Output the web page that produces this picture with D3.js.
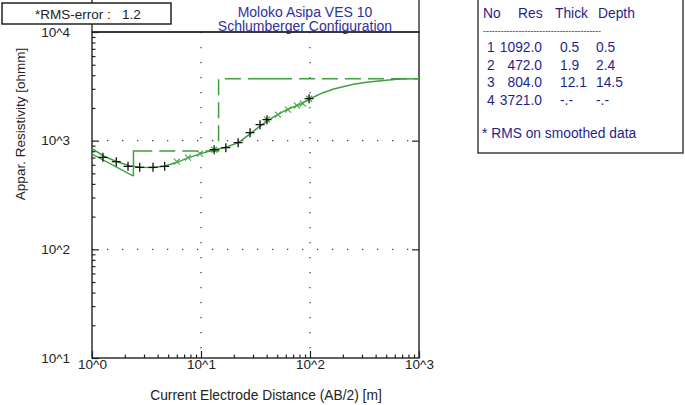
<!DOCTYPE html>
<html>
<head>
<meta charset="utf-8">
<script src="https://cdn.jsdelivr.net/npm/d3@7"></script>
<style>
  body { margin: 0; background: #fff; }
  svg { display: block; font-family: "Liberation Sans", Arial, sans-serif; }
</style>
</head>
<body>
<div id="chart"></div>
<script>
// sounding data
const fieldAB = [1.26, 1.67, 2.14, 2.74, 3.63, 4.64, 13.2, 16.9, 21.9, 28.2, 34.8, 40.3, 98];
const fieldRho = [702, 641, 580, 568, 568, 580, 826, 862, 959, 1185, 1403, 1560, 2433];
const smoothAB = [6.0, 7.6, 9.8, 13.2, 40.3, 50.9, 62.8, 76, 86, 98];
const smoothRho = [641, 698, 759, 826, 1560, 1734, 1928, 2099, 2190, 2433];
// calculated curve for the model
const curveAB = [1, 1.3, 1.7, 2.2, 2.8, 3.6, 4.6, 6, 7.6, 10, 13, 17, 22, 28, 36, 46, 60, 80, 100, 130, 165, 250, 330, 500, 670, 1000];
const curveRho = [845, 715, 640, 588, 568, 566, 582, 632, 695, 760, 822, 870, 960, 1150, 1400, 1650, 1910, 2150, 2430, 2750, 2990, 3300, 3440, 3600, 3690, 3720];
// layer model
const layerNo = [1, 2, 3, 4];
const layerRes = [1092.0, 472.0, 804.0, 3721.0];
const layerThick = [0.5, 1.9, 12.1, null];
const layerDepth = [0.5, 2.4, 14.5, null];
const xTickLabels = ["10^0", "10^1", "10^2", "10^3"];
const yTickLabels = ["10^1", "10^2", "10^3", "10^4"];
const titleLines = ["Moloko Asipa VES 10", "Schlumberger Configuration"];
const rmsError = 1.2;

const width = 685, height = 405;
const m = { left: 92, right: 419, top: 32, bottom: 358 };

const svg = d3.select("#chart").append("svg")
  .attr("width", width).attr("height", height);

const x = d3.scaleLog().domain([1, 1000]).range([m.left, m.right]);
const y = d3.scaleLog().domain([10, 10000]).range([m.bottom, m.top]);

const xMajor = [1, 10, 100, 1000];
const yMajor = [10, 100, 1000, 10000];
const minorOf = (dec) => d3.merge(dec.slice(0, -1).map(d => d3.range(2, 10).map(k => k * d)));

// title box
svg.append("rect")
  .attr("x", m.left).attr("y", -2).attr("width", m.right - m.left).attr("height", m.top + 2)
  .attr("fill", "#fff").attr("stroke", "#222").attr("stroke-width", 1.3);
svg.selectAll(".title").data(titleLines).enter().append("text")
  .attr("x", 305).attr("y", (d, i) => 16.5 + i * 14.5)
  .attr("text-anchor", "middle")
  .attr("fill", "#30309a").style("font-size", "14px")
  .text(d => d);

// grid
const grid = svg.append("g").attr("stroke", "#444").attr("stroke-width", 1.3)
  .attr("stroke-dasharray", "1.3,13.7");
grid.selectAll(".gx").data([10, 100]).enter().append("line")
  .attr("x1", d => x(d)).attr("x2", d => x(d)).attr("y1", m.top).attr("y2", m.bottom);
grid.selectAll(".gy").data([100, 1000]).enter().append("line")
  .attr("y1", d => y(d)).attr("y2", d => y(d)).attr("x1", m.left).attr("x2", m.right);

// axes
const xAxisMinor = d3.axisBottom(x).tickValues(minorOf(xMajor)).tickSize(-3.5).tickSizeOuter(0).tickFormat("");
const xAxisMajor = d3.axisBottom(x).tickValues(xMajor).tickSize(-7).tickSizeOuter(0).tickPadding(1)
  .tickFormat((d, i) => xTickLabels[i]);
const yAxisMinor = d3.axisLeft(y).tickValues(minorOf(yMajor)).tickSize(-3.5).tickSizeOuter(0).tickFormat("");
const yAxisMajor = d3.axisLeft(y).tickValues(yMajor).tickSize(-7).tickSizeOuter(0).tickPadding(22)
  .tickFormat((d, i) => yTickLabels[i]);
const yAxisRight = d3.axisRight(y).tickValues([100, 1000]).tickSize(-7).tickSizeOuter(0).tickFormat("");

const styleAxis = (g) => {
  g.select(".domain").remove();
  g.selectAll("line").attr("stroke", "#222").attr("stroke-width", 1.2);
  g.selectAll("text").attr("fill", "#222").style("font-size", "13.5px")
    .style("font-family", "'Liberation Sans', Arial, sans-serif");
};
svg.append("g").attr("transform", `translate(0,${m.bottom})`).call(xAxisMinor).call(styleAxis);
svg.append("g").attr("transform", `translate(0,${m.bottom})`).call(xAxisMajor).call(styleAxis);
svg.append("g").attr("transform", `translate(${m.left},0)`).call(yAxisMinor).call(styleAxis);
svg.append("g").attr("transform", `translate(${m.left},0)`).call(yAxisMajor).call(styleAxis);
svg.append("g").attr("transform", `translate(${m.right},0)`).call(yAxisRight).call(styleAxis);

// plot frame
svg.append("rect")
  .attr("x", m.left).attr("y", m.top).attr("width", m.right - m.left).attr("height", m.bottom - m.top)
  .attr("fill", "none").attr("stroke", "#222").attr("stroke-width", 1.4);

svg.append("text")
  .attr("x", 266).attr("y", 400).attr("text-anchor", "middle")
  .attr("fill", "#222").style("font-size", "13.8px")
  .text("Current Electrode Distance (AB/2) [m]");
svg.append("text")
  .attr("transform", "translate(25,124) rotate(-90)")
  .attr("text-anchor", "middle")
  .attr("fill", "#222").style("font-size", "13.5px")
  .text("Appar. Resistivity [ohmm]");

// curves
svg.append("clipPath").attr("id", "plotclip").append("rect")
  .attr("x", m.left).attr("y", m.top).attr("width", m.right - m.left).attr("height", m.bottom - m.top);
const plot = svg.append("g").attr("clip-path", "url(#plotclip)");

const line = d3.line().x(d => x(d[0])).y(d => y(d[1]));

// model: transition from the top layer, then the steps (dashed)
const modelTop = [[layerDepth[0], layerRes[0]], [layerDepth[1], layerRes[1]]];
const modelPts = [[layerDepth[1], layerRes[1]],
  [layerDepth[1], layerRes[2]], [layerDepth[2], layerRes[2]],
  [layerDepth[2], layerRes[3]], [1000, layerRes[3]]];
plot.append("path").attr("d", line(modelTop))
  .attr("fill", "none").attr("stroke", "#3f9f3f").attr("stroke-width", 1.3);
plot.append("path").attr("d", line(modelPts))
  .attr("fill", "none").attr("stroke", "#3f9f3f").attr("stroke-width", 1.5)
  .attr("stroke-dasharray", "44,7,16,7,16,7,16,7,16,7,16,7,16,7,16,7");

plot.append("path").attr("d", line(curveAB.map((d, i) => [d, curveRho[i]])))
  .attr("fill", "none").attr("stroke", "#3f9f3f").attr("stroke-width", 1.5);

// markers
plot.selectAll(".sm").data(smoothAB.map((d, i) => [d, smoothRho[i]])).enter().append("path")
  .attr("d", d => {
    const cx = x(d[0]), cy = y(d[1]), r = 3;
    return `M${cx - r},${cy - r}L${cx + r},${cy + r}M${cx - r},${cy + r}L${cx + r},${cy - r}`;
  })
  .attr("stroke", "#4aa84a").attr("stroke-width", 1.2);
plot.selectAll(".fd").data(fieldAB.map((d, i) => [d, fieldRho[i]])).enter().append("path")
  .attr("d", d => {
    const cx = x(d[0]), cy = y(d[1]), r = 4.5;
    return `M${cx - r},${cy}L${cx + r},${cy}M${cx},${cy - r}L${cx},${cy + r}`;
  })
  .attr("stroke", "#111").attr("stroke-width", 1.3);

// RMS box
svg.append("rect")
  .attr("x", 2).attr("y", 3).attr("width", 169).attr("height", 21)
  .attr("fill", "#fff").attr("stroke", "#222").attr("stroke-width", 1.5);
svg.append("text")
  .attr("x", 88).attr("y", 19).attr("text-anchor", "middle")
  .attr("fill", "#222").style("font-size", "13.5px").style("white-space", "pre")
  .text("*RMS-error :   " + rmsError.toFixed(1));

// layer table
svg.append("rect")
  .attr("x", 478).attr("y", -2).attr("width", 205).attr("height", 155)
  .attr("fill", "#fff").attr("stroke", "#222").attr("stroke-width", 1.3);
const table = svg.append("g").attr("fill", "#1f1f8c").style("font-size", "13.8px");
const header = [["No", 483], ["Res", 518], ["Thick", 555], ["Depth", 598]];
table.selectAll(".hd").data(header).enter().append("text")
  .attr("x", d => d[1]).attr("y", 18).text(d => d[0]);
table.append("text").attr("x", 483).attr("y", 34)
  .attr("textLength", 118).attr("lengthAdjust", "spacing")
  .style("font-size", "9px")
  .text("----------------------------------------");
const rowY = (i) => 52 + i * 17.5;
const fmt = (v) => v == null ? "-.-" : v.toFixed(1);
table.selectAll(".no").data(layerNo).enter().append("text")
  .attr("x", 487).attr("y", (d, i) => rowY(i)).text(d => d);
table.selectAll(".res").data(layerRes).enter().append("text")
  .attr("x", 542).attr("y", (d, i) => rowY(i)).attr("text-anchor", "end").text(fmt);
table.selectAll(".th").data(layerThick).enter().append("text")
  .attr("x", 560).attr("y", (d, i) => rowY(i)).text(fmt);
table.selectAll(".dp").data(layerDepth).enter().append("text")
  .attr("x", 596).attr("y", (d, i) => rowY(i)).text(fmt);
table.append("text").attr("x", 482).attr("y", 138).text("* RMS on smoothed data");
</script>
</body>
</html>
